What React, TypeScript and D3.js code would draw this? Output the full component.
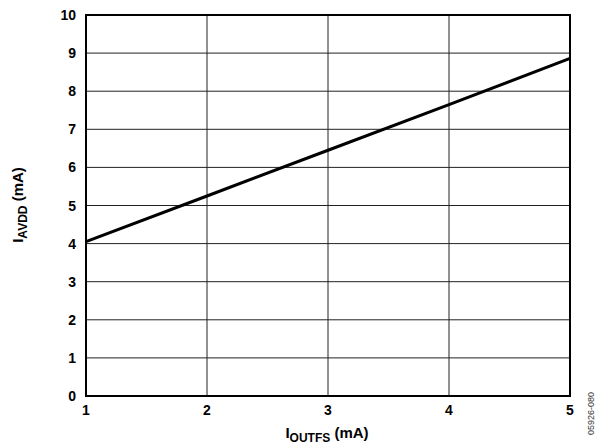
import React from "react";
import * as d3 from "d3";

const xValues = [1, 2, 3, 4, 5];
const yValues = [4.05, 5.25, 6.45, 7.65, 8.86];
const xTicks = [1, 2, 3, 4, 5];
const yTicks = [0, 1, 2, 3, 4, 5, 6, 7, 8, 9, 10];

export default function App() {
  const W = 596, H = 446;
  const left = 86, right = 570, top = 15, bottom = 396;
  const x = d3.scaleLinear().domain([1, 5]).range([left, right]);
  const y = d3.scaleLinear().domain([0, 10]).range([bottom, top]);
  const line = d3.line<number>().x((_, i) => x(xValues[i])).y((d) => y(d));
  const font = "'Liberation Sans', Arial, sans-serif";
  return (
    <svg width={W} height={H} style={{ position: "absolute", left: 0, top: 0, background: "#fff" }} fontFamily={font}>
      {yTicks.map((t) => (
        <line key={"gy" + t} x1={left} x2={right} y1={y(t)} y2={y(t)} stroke="#222" strokeWidth={1} />
      ))}
      {xTicks.map((t) => (
        <line key={"gx" + t} x1={x(t)} x2={x(t)} y1={top} y2={bottom} stroke="#222" strokeWidth={1} />
      ))}
      <rect x={left} y={top} width={right - left} height={bottom - top} fill="none" stroke="#000" strokeWidth={2} />
      <path d={line(yValues) || ""} fill="none" stroke="#000" strokeWidth={3} />
      {yTicks.map((t) => (
        <text key={"ty" + t} x={76} y={y(t)} dy="0.36em" textAnchor="end" fontSize={14} fontWeight="bold">{t}</text>
      ))}
      {xTicks.map((t) => (
        <text key={"tx" + t} x={x(t)} y={415} textAnchor="middle" fontSize={14} fontWeight="bold">{t}</text>
      ))}
      <text x={327} y={438} textAnchor="middle" fontSize={15} fontWeight="bold">
        I<tspan fontSize={12} dy={4}>OUTFS</tspan><tspan dy={-4}> (mA)</tspan>
      </text>
      <text transform={`translate(23,205) rotate(-90)`} textAnchor="middle" fontSize={15} fontWeight="bold">
        I<tspan fontSize={12} dy={4}>AVDD</tspan><tspan dy={-4}> (mA)</tspan>
      </text>
      <text transform={`translate(594,392) rotate(-90)`} textAnchor="end" fontSize={9} fill="#333">05926-080</text>
    </svg>
  );
}
